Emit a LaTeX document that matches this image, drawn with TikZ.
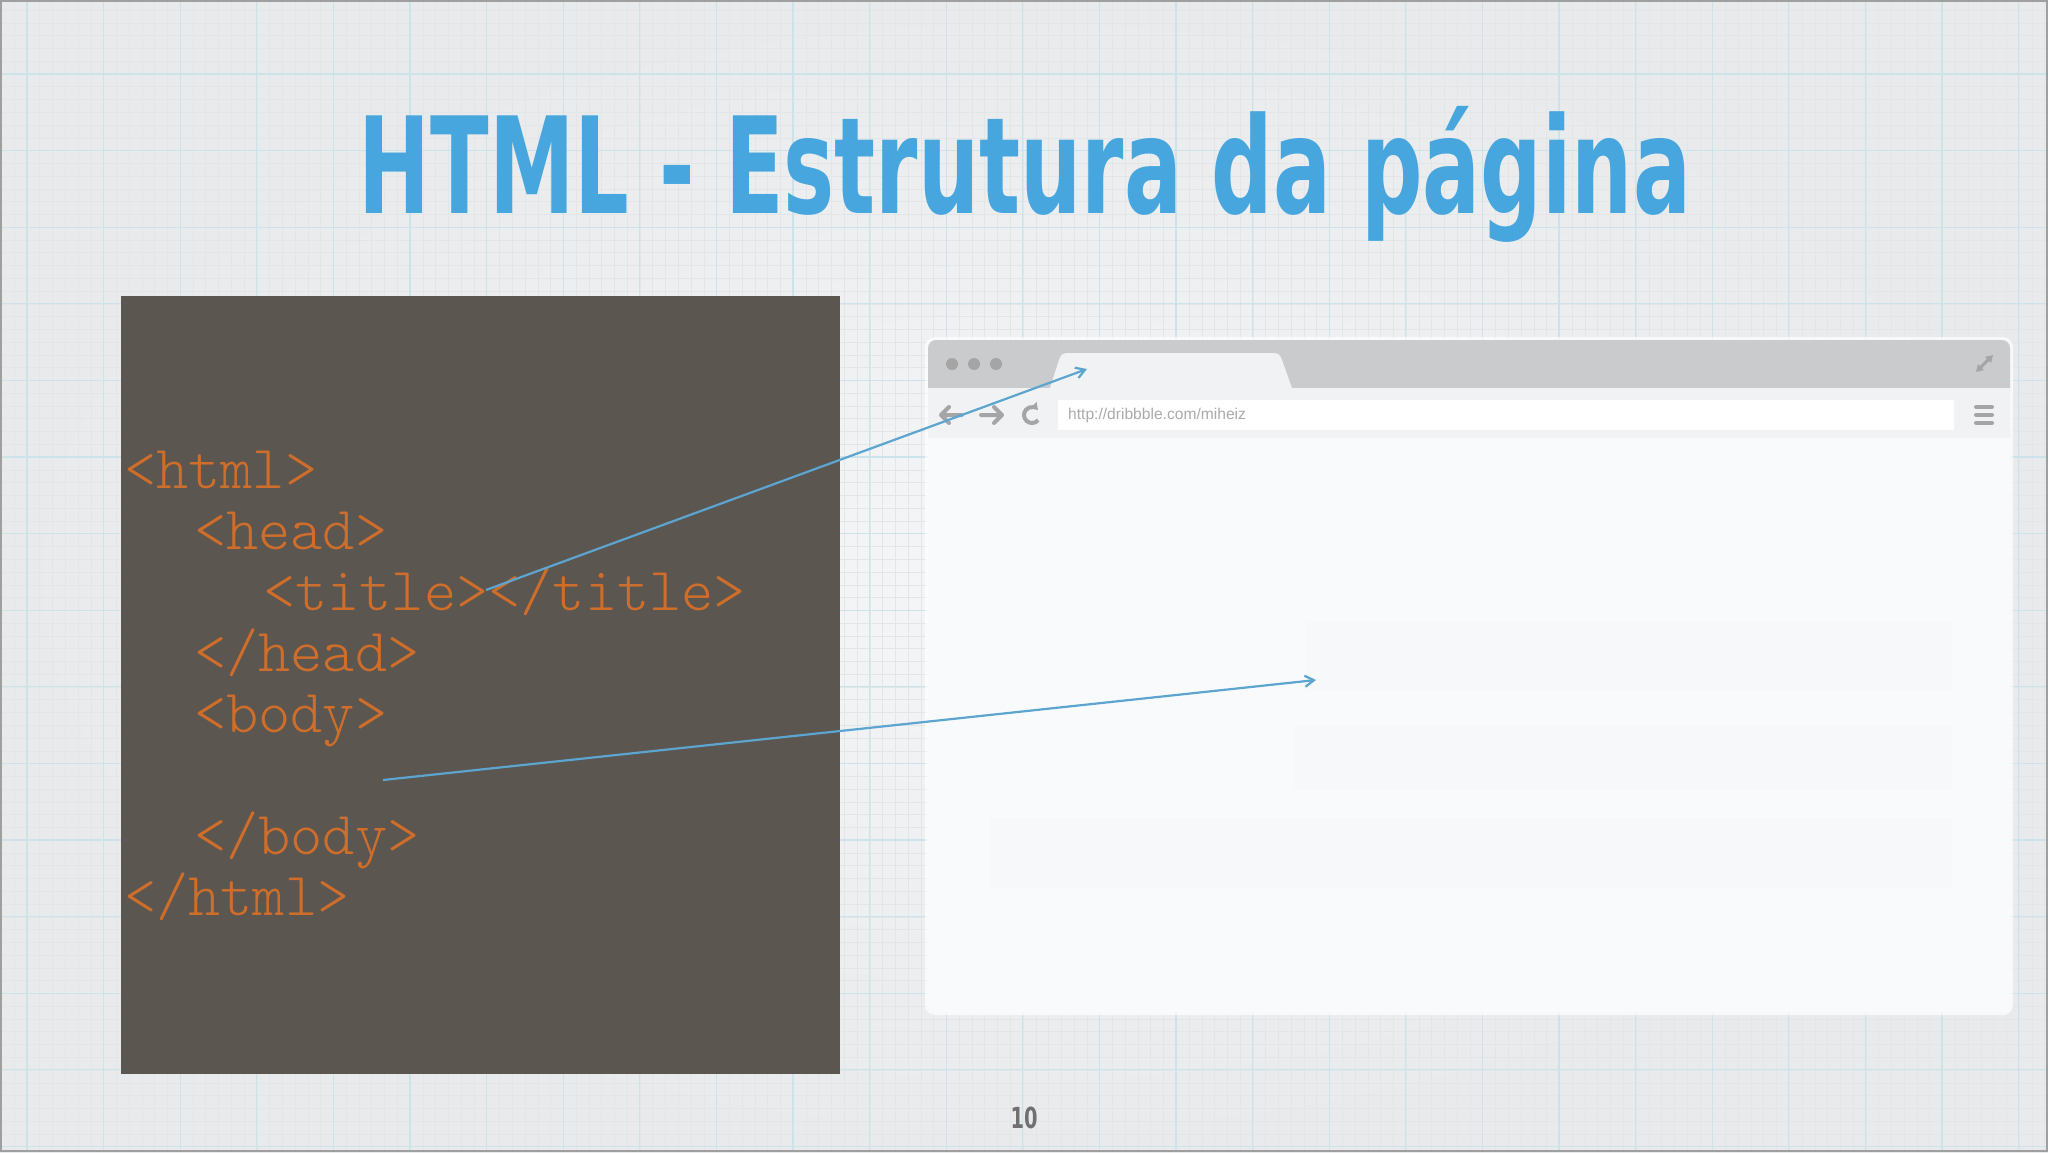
\documentclass[tikz,border=0pt]{standalone}
\usepackage{fontspec}
\setmainfont{Liberation Sans}
\newfontfamily\titlefont{DejaVu Sans}
\newfontfamily\codefont{Latin Modern Mono Light}
\usetikzlibrary{arrows.meta,calc}
\definecolor{bgcenter}{HTML}{F4F6F7}
\definecolor{bgedge}{HTML}{E8EAEB}
\definecolor{gridminor}{HTML}{E2E6E8}
\definecolor{gridmajor}{HTML}{CDE3EA}
\definecolor{codebg}{HTML}{5B5650}
\definecolor{codeorange}{HTML}{CF6D2A}
\definecolor{arrowblue}{HTML}{5BA5D0}
\definecolor{titleblue}{HTML}{47A6DE}
\definecolor{topbar}{HTML}{C9CBCD}
\definecolor{toolbar}{HTML}{F1F2F3}
\definecolor{winbody}{HTML}{F9FAFB}
\definecolor{faintblock}{HTML}{F7F8F9}
\definecolor{icongray}{HTML}{A5A5A5}
\definecolor{urlgray}{HTML}{AAAAAA}
\definecolor{pagegray}{HTML}{707070}
\tikzset{
  codeline/.style={anchor=base west, inner sep=0pt, text=codeorange,
    font=\codefont\fontsize{61.3}{66}\selectfont},
  linkarrow/.style={draw=arrowblue, line width=2.2pt,
    -{Straight Barb[length=9pt,width=11pt,line width=2.2pt]}},
  iconline/.style={draw=icongray, line width=4pt, line cap=round, line join=round},
}
\begin{document}
\begin{tikzpicture}[x=1pt,y=-1pt]
\useasboundingbox (0,0) rectangle (2048,1152);
% paper background
\shade[inner color=bgcenter, outer color=bgedge] (0,0) rectangle (2048,1152);
\foreach \i in {-6,...,162} {
  \draw[gridminor, line width=0.6pt] ({27+12.77*\i},0) -- ({27+12.77*\i},1152);
}
\foreach \i in {-6,...,92} {
  \draw[gridminor, line width=0.6pt] (0,{74+12.77*\i}) -- (2048,{74+12.77*\i});
}
\foreach \i in {0,...,26} {
  \draw[gridmajor, line width=1.3pt] ({27+76.6*\i},0) -- ({27+76.6*\i},1152);
}
\foreach \i in {-1,...,14} {
  \draw[gridmajor, line width=1.3pt] (0,{74+76.6*\i}) -- (2048,{74+76.6*\i});
}
\draw[gray!75, line width=2pt] (1,1) rectangle (2047,1151);

% title
\node[anchor=base, inner sep=0pt, text=titleblue] (title) at (1025,213)
  {\resizebox{1332pt}{\height}{\titlefont\bfseries\fontsize{134}{140}\selectfont HTML - Estrutura da página}};

% code panel
\node[fill=codebg, anchor=north west, minimum width=719pt, minimum height=778pt, inner sep=0pt] (codebox) at (121,296) {};
\node[codeline] (l1) at (124,488) {<html>};
\node[codeline] (l2) at (194,549) {<head>};
\node[codeline] (l3) at (263,610) {<title></title>};
\node[codeline] (l4) at (194,671) {</head>};
\node[codeline] (l5) at (194,732) {<body>};
\node[codeline] (l6) at (194,854) {</body>};
\node[codeline] (l7) at (124,915) {</html>};

% browser window
\fill[white, opacity=0.7, rounded corners=10pt] (925,337) rectangle (2013,1015);
\fill[topbar, rounded corners=8pt] (928,400) -- (928,340) -- (2010,340) -- (2010,400) -- cycle;
\fill[winbody] (928,388) rectangle (2010,1012);
\fill[toolbar] (928,388) rectangle (2010,438);
\fill[toolbar] (1050,388) -- (1059,360) .. controls (1061,354) and (1063,353) .. (1069,353)
  -- (1272,353) .. controls (1278,353) and (1280,354) .. (1282,360) -- (1292,388) -- cycle;
\fill[faintblock] (1306,622) rectangle (1952,690);
\fill[faintblock] (1293,726) rectangle (1952,790);
\fill[faintblock] (990,818) rectangle (1952,888);
% window dots
\fill[icongray] (952,364) circle (6pt);
\fill[icongray] (974,364) circle (6pt);
\fill[icongray] (996,364) circle (6pt);
% expand icon
\draw[icongray, line width=3pt, {Triangle[length=7pt,width=8pt]}-{Triangle[length=7pt,width=8pt]}] (1976,372) -- (1993,355);
% nav icons
\draw[iconline] (962,415) -- (941,415) (949,407) -- (941,415) -- (949,423);
\draw[iconline] (981,415) -- (1002,415) (994,407) -- (1002,415) -- (994,423);
\coordinate (reloadc) at (1032,415);
\draw[draw=icongray, line width=4pt, -{Triangle[length=6pt,width=9pt]}]
  ($(reloadc)+(40:8)$) arc[start angle=40, end angle=315, radius=8];
% url field
\fill[white] (1058,400) rectangle (1954,430);
\node[anchor=west, inner sep=0pt, text=urlgray, font=\fontsize{15.6}{18}\selectfont] (url) at (1068,415) {http://dribbble.com/miheiz};
% menu icon
\draw[iconline] (1976,407) -- (1992,407) (1976,415) -- (1992,415) (1976,423) -- (1992,423);

% connectors
\coordinate (titletag) at (486,590);
\coordinate (tabtarget) at (1087,369);
\coordinate (bodytag) at (383,780);
\coordinate (bodytarget) at (1316,680);
\draw[linkarrow] (titletag) -- (tabtarget);
\draw[linkarrow] (bodytag) -- (bodytarget);

% page number
\node[anchor=base, inner sep=0pt, text=pagegray] (pagenum) at (1024,1128)
  {\resizebox{27pt}{\height}{\titlefont\bfseries\fontsize{29}{30}\selectfont 10}};
\end{tikzpicture}
\end{document}
